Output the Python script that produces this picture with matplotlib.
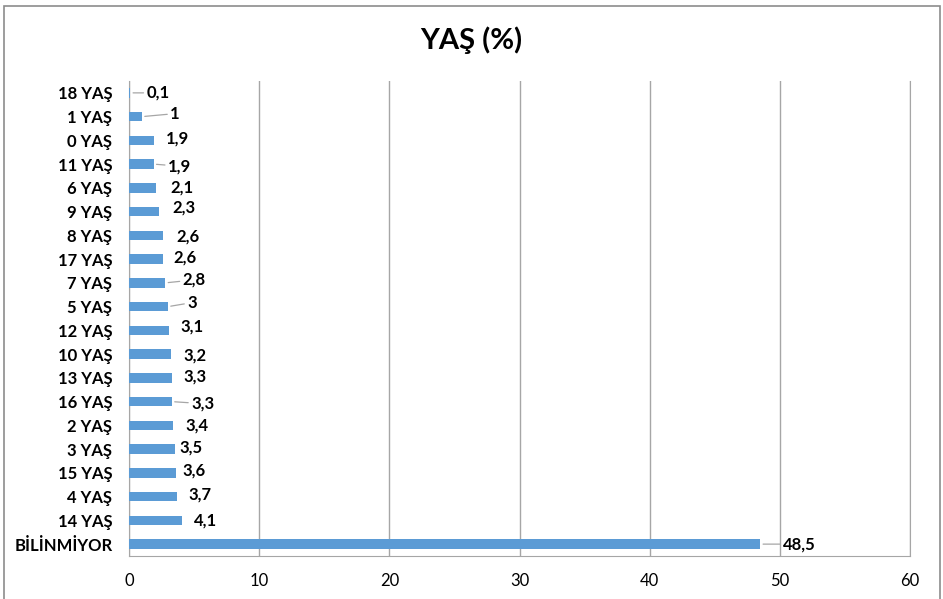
import matplotlib.pyplot as plt
from matplotlib.patches import Rectangle

# categories listed bottom -> top
categories = ['BİLİNMİYOR', '14 YAŞ', '4 YAŞ', '15 YAŞ', '3 YAŞ', '2 YAŞ', '16 YAŞ',
              '13 YAŞ', '10 YAŞ', '12 YAŞ', '5 YAŞ', '7 YAŞ', '17 YAŞ', '8 YAŞ',
              '9 YAŞ', '6 YAŞ', '11 YAŞ', '0 YAŞ', '1 YAŞ', '18 YAŞ']
values = [48.5, 4.1, 3.7, 3.6, 3.5, 3.4, 3.3, 3.3, 3.2, 3.1, 3.0, 2.8, 2.6, 2.6,
          2.3, 2.1, 1.9, 1.9, 1.0, 0.1]
value_labels = ['48,5', '4,1', '3,7', '3,6', '3,5', '3,4', '3,3', '3,3', '3,2', '3,1',
                '3', '2,8', '2,6', '2,6', '2,3', '2,1', '1,9', '1,9', '1', '0,1']

# label offsets in pixels (dx from bar end, dy upward) and leader flags
label_dx = [23, 12, 11, 7, 5, 12, 19, 11, 13, 11, 19, 17, 11, 14, 13, 14, 14, 12, 28, 16]
label_dy = [0, 0, 2, 2, 2, 0, -2, 1, -1, 4, 4, 3, 2, -1, 4, 0, -2, 2, 3, 0]
leader = [True, False, False, False, False, False, True, False, False, False,
          True, True, False, False, False, False, True, False, True, True]

plt.rcParams['font.family'] = ['Lato', 'DejaVu Sans']

fig = plt.figure(figsize=(9.43, 5.99), dpi=100)
ax = fig.add_axes([129 / 943, 1 - 556 / 599, (910 - 129) / 943, (556 - 81) / 599])

y = range(len(categories))
ax.barh(y, values, height=0.4, color='#5b9bd5', zorder=3)

for i, v in enumerate(values):
    dx = label_dx[i]
    arrow = dict(arrowstyle='-', color='#a6a6a6', lw=0.9,
                 shrinkA=0, shrinkB=2) if leader[i] else None
    ax.annotate(value_labels[i], xy=(v, i), xytext=(dx, label_dy[i]),
                textcoords='offset pixels', ha='left', va='center',
                fontsize=12, fontweight='bold', color='black',
                arrowprops=arrow, zorder=4)

ax.set_xlim(0, 60)
ax.set_ylim(-0.5, len(categories) - 0.5)
ax.set_xticks(range(0, 61, 10))
ax.set_yticks(list(y))
ax.set_yticklabels(categories, fontsize=12, fontweight='bold')
ax.tick_params(axis='y', length=0, pad=12)
ax.tick_params(axis='x', length=0, pad=12, labelsize=12)
ax.grid(axis='x', color='#a6a6a6', lw=1, zorder=0)

for side in ['left', 'bottom', 'right']:
    ax.spines[side].set_color('#a6a6a6')
ax.spines['top'].set_visible(False)

fig.text(471 / 943, 1 - 40 / 599, 'YAŞ (%)', ha='center', va='center',
         fontsize=21, fontweight='bold')

fig.patches.append(Rectangle((4 / 943, -0.01), 936 / 943, 1.0,
                             transform=fig.transFigure, fill=False,
                             edgecolor='#8c8c8c', lw=1.2))

fig.savefig('out.png', dpi=100)
